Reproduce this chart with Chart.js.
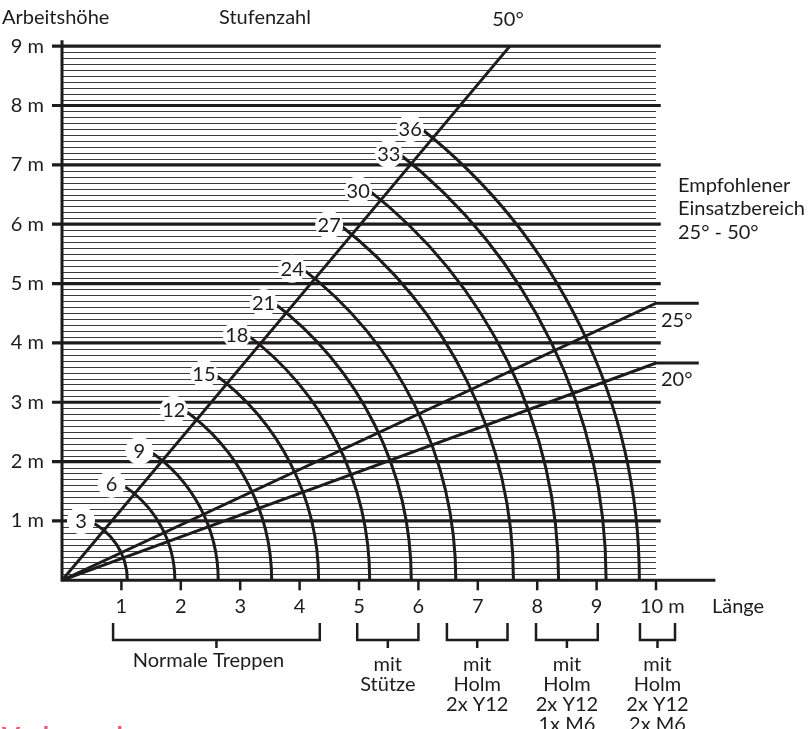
<!DOCTYPE html>
<html>
<head>
<meta charset="utf-8">
<script src="https://cdn.jsdelivr.net/npm/chart.js@4/dist/chart.umd.min.js"></script>
<style>
  html, body { margin: 0; padding: 0; background: #fff; }
  #wrap { position: relative; width: 810px; height: 729px; overflow: hidden; }
</style>
</head>
<body>
<div id="wrap"><canvas id="chart" width="810" height="729"></canvas></div>
<script>
  // Stufenzahl und Radius des Bogens (in m)
  const stufen = [3, 6, 9, 12, 15, 18, 21, 24, 27, 30, 33, 36];
  const radien = [1.1, 1.9, 2.63, 3.53, 4.32, 5.18, 5.88, 6.63, 7.6, 8.36, 9.16, 9.72];

  // Neigungslinien
  const linie50 = [{x: 0, y: 0}, {x: 7.54, y: 9}];
  const linie25 = [{x: 0, y: 0}, {x: 10, y: 4.67}, {x: 10.72, y: 4.67}];
  const linie20 = [{x: 0, y: 0}, {x: 10, y: 3.66}, {x: 10.72, y: 3.66}];

  // Achsen
  const yTicks = [1, 2, 3, 4, 5, 6, 7, 8, 9];
  const yTickLabels = ['1 m', '2 m', '3 m', '4 m', '5 m', '6 m', '7 m', '8 m', '9 m'];
  const xTicks = [1, 2, 3, 4, 5, 6, 7, 8, 9, 10];
  const xTickLabels = ['1', '2', '3', '4', '5', '6', '7', '8', '9', '10'];

  // Gruppen unter der Längenachse
  const gruppenVon = [0.86, 4.97, 6.48, 7.98, 9.73];
  const gruppenBis = [4.34, 6.0, 7.5, 9.02, 10.32];
  const gruppenText = [
    ['Normale Treppen'],
    ['mit', 'Stütze'],
    ['mit', 'Holm', '2x Y12'],
    ['mit', 'Holm', '2x Y12', '1x M6'],
    ['mit', 'Holm', '2x Y12', '2x M6']
  ];

  const INK = '#1e1b1c';
  const FONT = '20px Lato, "Open Sans", sans-serif';

  const treppe = {
    id: 'treppe',
    beforeDatasetsDraw(chart) {
      const {ctx, scales: {x, y}} = chart;
      const x0 = x.getPixelForValue(0);
      const y0 = y.getPixelForValue(0);
      ctx.save();
      // feine Schraffur alle 0,1 m
      ctx.strokeStyle = '#3a3a3a';
      ctx.lineWidth = 1.2;
      for (let i = 1; i < 90; i++) {
        if (i % 10 === 0) continue;
        const py = Math.round(y.getPixelForValue(i / 10)) + 0.5;
        ctx.beginPath();
        ctx.moveTo(x0, py);
        ctx.lineTo(x.getPixelForValue(10), py);
        ctx.stroke();
      }
      // volle Meter
      ctx.lineWidth = 3.2;
      ctx.strokeStyle = INK;
      yTicks.forEach(v => {
        const py = y.getPixelForValue(v);
        ctx.beginPath();
        ctx.moveTo(x0 - 10, py);
        ctx.lineTo(x.getPixelForValue(10.08), py);
        ctx.stroke();
      });
      // Achsen
      ctx.lineWidth = 3;
      ctx.beginPath();
      ctx.moveTo(x0, y.getPixelForValue(9.1));
      ctx.lineTo(x0, y0);
      ctx.lineTo(x.getPixelForValue(11), y0);
      ctx.stroke();
      ctx.lineWidth = 2.5;
      xTicks.forEach(v => {
        const px = x.getPixelForValue(v);
        ctx.beginPath();
        ctx.moveTo(px, y0);
        ctx.lineTo(px, y0 + 10);
        ctx.stroke();
      });
      ctx.restore();
    },
    afterDatasetsDraw(chart) {
      const {ctx, scales: {x, y}} = chart;
      const cx = x.getPixelForValue(0);
      const cy = y.getPixelForValue(0);
      const a50 = 50 * Math.PI / 180;
      ctx.save();
      // Bögen
      ctx.strokeStyle = INK;
      ctx.lineWidth = 3;
      radien.forEach(r => {
        const rx = x.getPixelForValue(r) - cx;
        const ry = cy - y.getPixelForValue(r);
        const end = a50 + 18 / rx;
        ctx.beginPath();
        ctx.ellipse(cx, cy, rx, ry, 0, -end, 0);
        ctx.stroke();
      });
      // Stufenzahl-Etiketten
      ctx.font = FONT;
      ctx.textAlign = 'center';
      ctx.textBaseline = 'middle';
      radien.forEach((r, i) => {
        const rx = x.getPixelForValue(r) - cx;
        const ry = cy - y.getPixelForValue(r);
        const lx = cx + rx * Math.cos(a50) - 23;
        const ly = cy - ry * Math.sin(a50) - 10;
        ctx.fillStyle = '#fff';
        ctx.beginPath();
        ctx.arc(lx, ly, 14, 0, Math.PI * 2);
        ctx.fill();
        ctx.fillStyle = INK;
        ctx.fillText(String(stufen[i]), lx, ly + 1);
      });

      // Achsbeschriftung
      ctx.fillStyle = INK;
      ctx.textAlign = 'right';
      yTicks.forEach((v, i) => ctx.fillText(yTickLabels[i], 44, y.getPixelForValue(v)));
      ctx.textAlign = 'center';
      xTicks.forEach((v, i) => {
        const px = x.getPixelForValue(v);
        if (i === xTicks.length - 1) {
          ctx.textAlign = 'left';
          ctx.fillText(xTickLabels[i] + ' m', px - 16, 607);
          ctx.textAlign = 'center';
        } else {
          ctx.fillText(xTickLabels[i], px, 607);
        }
      });
      ctx.textAlign = 'left';
      ctx.fillText('Länge', 712, 607);

      // Klammern
      ctx.lineWidth = 2.5;
      gruppenVon.forEach((von, i) => {
        const a = x.getPixelForValue(von);
        const b = x.getPixelForValue(gruppenBis[i]);
        const m = (a + b) / 2;
        ctx.beginPath();
        ctx.moveTo(a, 623);
        ctx.lineTo(a, 640);
        ctx.lineTo(b, 640);
        ctx.lineTo(b, 623);
        ctx.moveTo(m, 640);
        ctx.lineTo(m, 648);
        ctx.stroke();
        ctx.textAlign = 'center';
        const start = gruppenText[i].length === 1 ? 661 : 665;
        gruppenText[i].forEach((t, k) => ctx.fillText(t, m - (i === 0 ? 8 : 0), start + k * 20));
      });

      // Überschriften
      ctx.textAlign = 'left';
      ctx.fillText('Arbeitshöhe', 2, 18);
      ctx.fillText('Stufenzahl', 219, 18);
      ctx.textAlign = 'center';
      ctx.fillText('50°', 508, 20);
      ctx.textAlign = 'left';
      ctx.fillText('Empfohlener', 678, 186);
      ctx.fillText('Einsatzbereich', 678, 209);
      ctx.fillText('25° - 50°', 678, 233);
      ctx.fillText('25°', 661, 321);
      ctx.fillText('20°', 661, 380);

      // abgeschnittene Überschrift darunter
      ctx.fillStyle = '#f2557a';
      ctx.font = 'bold 26px Lato, sans-serif';
      ctx.textBaseline = 'alphabetic';
      ctx.fillText('Vorbemerkungen', 2, 746);
      ctx.restore();
    }
  };

  const lineStyle = {
    borderColor: INK,
    borderWidth: 3,
    pointRadius: 0,
    fill: false,
    tension: 0
  };

  new Chart(document.getElementById('chart'), {
    type: 'line',
    data: {
      datasets: [
        {label: '50°', data: linie50, ...lineStyle},
        {label: '25°', data: linie25, ...lineStyle},
        {label: '20°', data: linie20, ...lineStyle}
      ]
    },
    options: {
      responsive: false,
      animation: false,
      devicePixelRatio: 1,
      layout: { padding: { left: 62, right: 94.6, top: 40.2, bottom: 148.7 } },
      plugins: { legend: { display: false }, tooltip: { enabled: false } },
      scales: {
        x: { type: 'linear', min: 0, max: 11, display: false },
        y: { type: 'linear', min: 0, max: 9.1, display: false }
      }
    },
    plugins: [treppe]
  });
</script>
</body>
</html>
